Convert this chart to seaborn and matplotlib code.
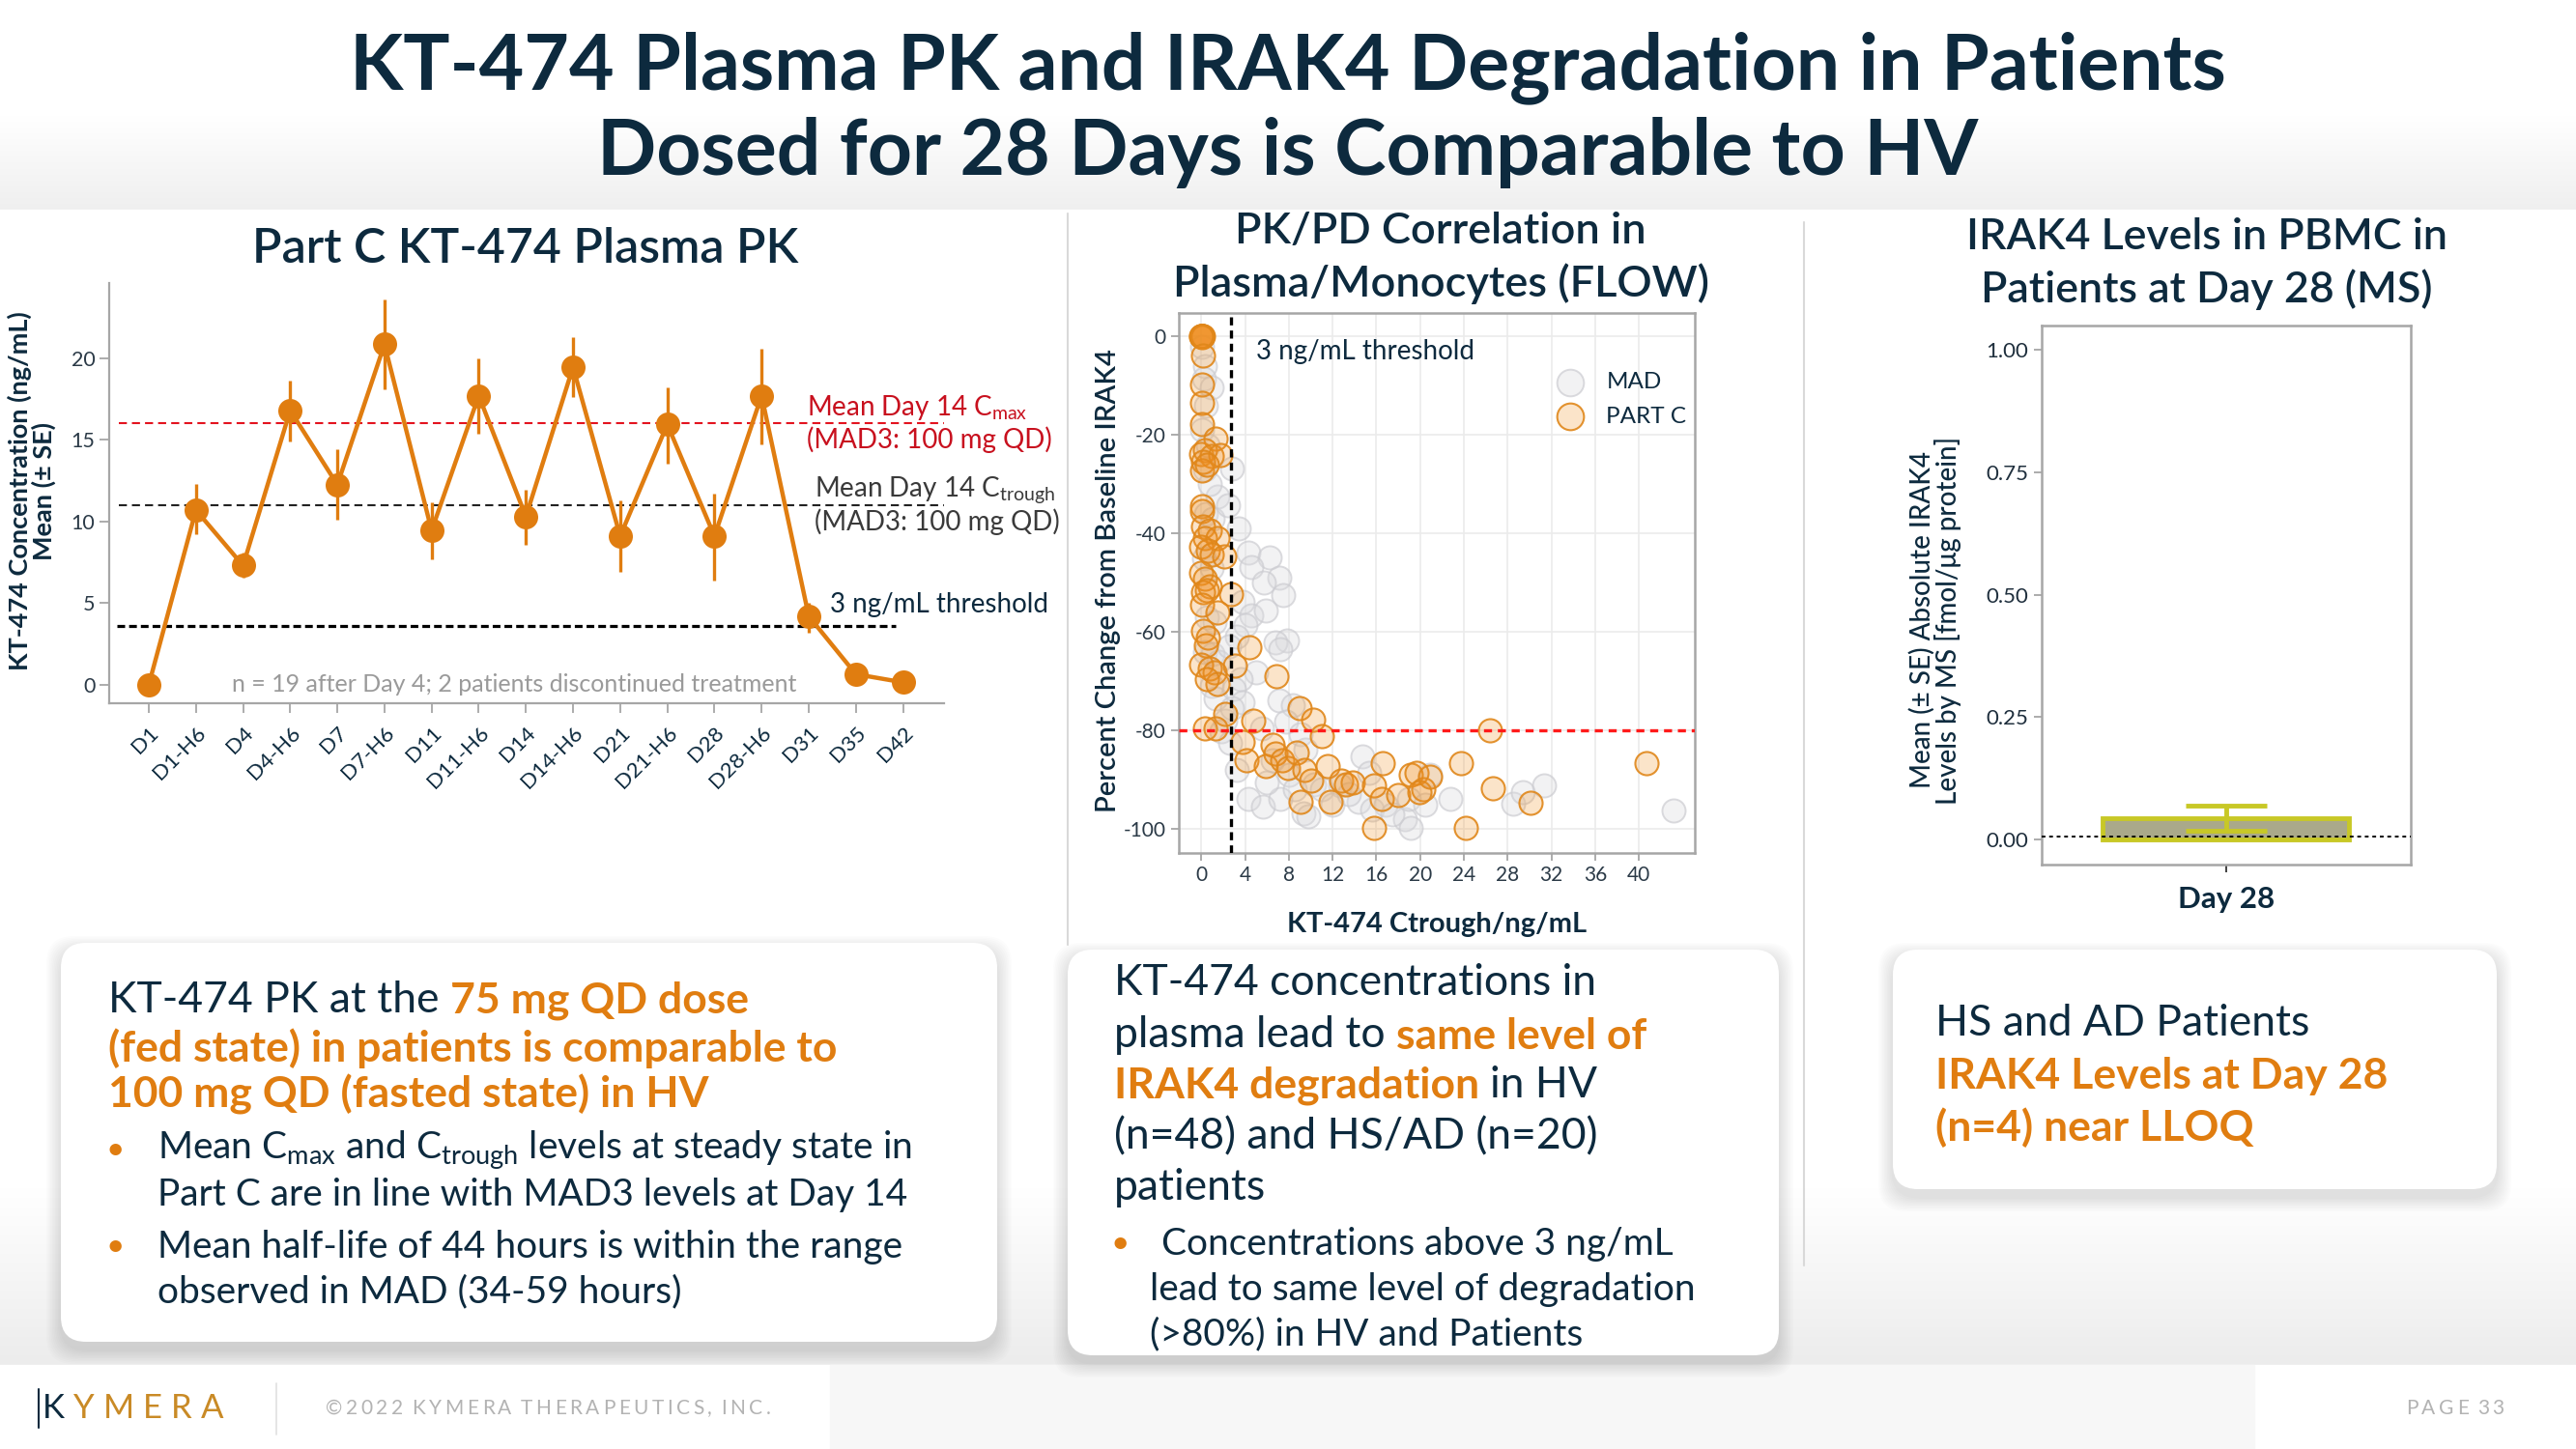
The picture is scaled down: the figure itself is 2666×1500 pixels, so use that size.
import numpy as np
import pandas as pd
import matplotlib
matplotlib.use("Agg")
import matplotlib.pyplot as plt
import seaborn as sns
from matplotlib.patches import FancyBboxPatch, Rectangle
from matplotlib.colors import to_rgb

# ---------------- data ----------------
pk_timepoints = ["D1", "D1-H6", "D4", "D4-H6", "D7", "D7-H6", "D11", "D11-H6", "D14",
                 "D14-H6", "D21", "D21-H6", "D28", "D28-H6", "D31", "D35", "D42"]
pk_mean = [0.0, 10.7, 7.3, 16.8, 12.25, 20.85, 9.45, 17.7, 10.3,
           19.45, 9.1, 15.95, 9.1, 17.7, 4.2, 0.65, 0.15]
pk_upper = [0.0, 12.3, 8.1, 18.6, 14.45, 23.6, 11.2, 20.0, 11.95,
            21.3, 11.3, 18.2, 11.7, 20.6, 5.05, 0.8, 0.2]
pk_lower = [0.0, 9.2, 6.55, 14.9, 10.1, 18.1, 7.7, 15.35, 8.6,
            17.6, 6.9, 13.55, 6.4, 14.75, 3.2, 0.5, 0.1]
cmax_ref = 16.0
ctrough_ref = 11.0
pk_threshold = 3.6

mad_ctrough = [0.1, 0.3, 0.2, 0.9, 0.4, 0.1, 0.6, 0.3, 1.5, 0.8, 0.4, 1.0, 0.2, 0.9, 0.5, 1.2,
               0.3, 1.0, 1.6, 0.9, 1.3, 1.8, 2.2, 2.6, 2.8, 2.4, 3.4, 4.3, 6.2, 4.6, 7.1, 5.7,
               3.8, 4.6, 7.5, 5.9, 4.0, 3.2, 2.5, 7.8, 6.8, 7.2, 5.0, 3.6, 3.0, 3.8, 7.1, 8.4,
               2.8, 7.7, 9.1, 5.5, 3.2, 4.3, 5.6, 7.2, 9.3, 10.3, 12.7, 14.4, 14.7, 15.3, 15.6,
               18.6, 19.1, 20.9, 22.8, 28.5, 29.4, 31.3, 43.2, 6.5, 8.0, 9.5, 11.0, 12.0, 13.5,
               16.8, 17.5, 19.0, 20.5, 9.8, 6.0, 8.5]
mad_pct = [-2, -6, -8.5, -10.4, -14, -19, -22, -27, -32.4, -30, -36, -37, -45, -47, -57, -58,
           -64, -64.5, -66, -70.9, -73.5, -80.1, -78, -82.5, -26.8, -34.3, -38.9, -43.8, -44.8,
           -46.8, -49, -50, -53.9, -56.6, -52.5, -55.6, -58.5, -61, -63, -61.8, -62.1, -63.5,
           -68.3, -69.5, -71.5, -74.2, -73.9, -74.9, -75.5, -78.2, -80.8, -79.5, -88.0, -93.9,
           -95.5, -93.9, -96.8, -90.9, -91.2, -94.5, -85.3, -88.6, -96.1, -98.1, -99.7, -89.0,
           -93.9, -94.8, -92.5, -91.2, -96.3, -86, -89, -84, -92, -95, -93, -95, -97, -94, -95,
           -97.5, -90.5, -92]

partc_ctrough = [0.0, 0.05, 0.1, 0.05, 0.1, 0.15, 0.1, 0.05, 0.0, 0.16, 0.04, 0.04, 0.04, 1.3,
                 0.0, 0.35, 0.95, 1.7, 0.16, 0.04, 0.5, 0.04, 0.1, 0.16, 0.75, 0.35, 1.5, 0.0,
                 0.55, 0.95, 2.1, 0.0, 0.35, 0.75, 0.16, 2.7, 0.5, 0.04, 1.5, 0.16, 0.6, 0.45,
                 4.4, 0.0, 0.75, 1.2, 3.1, 6.9, 1.5, 0.5, 9.0, 2.2, 10.2, 4.7, 0.35, 1.34, 11.0,
                 26.4, 3.8, 6.5, 4.1, 5.9, 6.78, 7.37, 7.95, 8.7, 9.4, 10.0, 11.5, 12.8, 13.25,
                 13.8, 9.1, 11.8, 15.8, 16.5, 18.0, 16.6, 19.1, 19.7, 20.3, 19.9, 20.9, 23.7,
                 26.6, 30.1, 40.7, 15.8, 24.2]
partc_pct = [0, 0, 0, 0.1, -0.1, 0, 0.1, 0, 0, -3.9, -9.8, -13.4, -17.7, -20.8, -23.9, -23.0,
             -24.3, -24.1, -25.5, -27.1, -26, -34.4, -35.5, -38.5, -39.3, -41.0, -41.0, -42.6,
             -43.4, -44.2, -44.6, -47.9, -49.1, -50.7, -52.0, -52.4, -51.5, -54.4, -56.0,
             -59.7, -61.1, -62.8, -63.1, -66.6, -67.4, -68.3, -66.8, -68.9, -70.5, -69.5,
             -75.5, -76.6, -77.8, -78.1, -79.6, -79.6, -81.1, -79.9, -82.4, -83.0, -86.0,
             -87.3, -84.7, -86.0, -87.6, -84.4, -88.0, -90.2, -87.3, -90.2, -90.9, -90.6,
             -94.5, -94.5, -91.2, -93.9, -93.2, -86.7, -89.0, -88.6, -91.9, -92.5, -89.3,
             -86.7, -91.8, -94.6, -86.7, -99.7, -99.7]
ctrough_threshold = 2.7
degradation_ref = -80

irak_days = ["Day 28"]
irak_mean = [0.043]
irak_upper = [0.069]
irak_lower = [0.019]
lloq_level = 0.006

# ---------------- style ----------------
sns.set_theme(style="white")
plt.rcParams['font.family'] = ['Lato', 'DejaVu Sans']
plt.rcParams['mathtext.fontset'] = 'custom'
plt.rcParams['mathtext.rm'] = 'Lato'
plt.rcParams['mathtext.it'] = 'Lato:italic'
plt.rcParams['mathtext.bf'] = 'Lato:bold'
plt.rcParams['mathtext.default'] = 'regular'
plt.rcParams['axes.unicode_minus'] = False

NAVY = '#0d2a3e'
ORANGE = '#e07d10'
GRAYSP = '#a6a6a6'

fig = plt.figure(figsize=(26.66, 15), dpi=100, facecolor='white')

# ---------------- background / decorations ----------------
bg = fig.add_axes([0, 0, 1, 1], zorder=-10)
bg.set_xlim(0, 2666)
bg.set_ylim(1500, 0)
bg.axis('off')

def vgrad(ax, x0, x1, y0, y1, c0, c1, z=0):
    g = np.linspace(0, 1, 256)[:, None, None]
    a = np.array(to_rgb(c0))[None, None, :]
    b = np.array(to_rgb(c1))[None, None, :]
    img = a * (1 - g) + b * g
    ax.imshow(img, extent=[x0, x1, y1, y0], aspect='auto', zorder=z, interpolation='bicubic')

vgrad(bg, 0, 2666, 120, 217, '#ffffff', '#efefef')
vgrad(bg, 0, 2666, 1230, 1413, '#ffffff', '#ececec')
bg.add_patch(Rectangle((0, 1413), 2666, 87, color='white', zorder=1))
bg.add_patch(Rectangle((859, 1413), 1474, 87, color='#f7f7f7', zorder=1))
bg.set_xlim(0, 2666)
bg.set_ylim(1500, 0)

# separators
bg.plot([1105, 1105], [221, 978], color='#d9d9d9', lw=1.5, zorder=2)
bg.plot([1867, 1867], [230, 1310], color='#d9d9d9', lw=1.5, zorder=2)
bg.plot([286, 286], [1432, 1485], color='#e0e0e0', lw=1.2, zorder=2)

def card(x0, y0, x1, y1):
    w, h = x1 - x0, y1 - y0
    for i in range(10, 0, -1):
        bg.add_patch(FancyBboxPatch((x0 - i * 1.5, y0 - i * 1.5 + 8), w + i * 3, h + i * 3,
                                    boxstyle="round,pad=0,rounding_size=28",
                                    facecolor='black', edgecolor='none', alpha=0.012, zorder=3))
    bg.add_patch(FancyBboxPatch((x0, y0), w, h, boxstyle="round,pad=0,rounding_size=26",
                                facecolor='white', edgecolor='none', zorder=4))

card(63, 976, 1032, 1389)
card(1105, 983, 1841, 1403)
card(1959, 983, 2584, 1231)

def rich_line(x, y, parts, size):
    t = None
    for text, color, weight in parts:
        if t is None:
            t = bg.text(x, y, text, color=color, fontsize=size, fontweight=weight,
                        va='center', ha='left', zorder=6)
        else:
            t = bg.annotate(text, xy=(1, 0), xycoords=t, xytext=(size * 0.25, 0),
                            textcoords='offset points', va='bottom', ha='left',
                            color=color, fontsize=size, fontweight=weight, zorder=6)
    return t

def spaced_text(x, y, s, size, color, track, colors=None, weight='normal'):
    t = None
    extra = 0.0
    for i, ch in enumerate(s):
        col = colors[i] if colors else color
        if ch == ' ':
            extra += size * 0.26
            continue
        if t is None:
            t = bg.text(x, y, ch, color=col, fontsize=size, fontweight=weight,
                        va='center', ha='left', zorder=6)
        else:
            t = bg.annotate(ch, xy=(1, 0), xycoords=t, xytext=(track + extra, 0),
                            textcoords='offset points', va='bottom', ha='left',
                            color=col, fontsize=size, fontweight=weight, zorder=6)
        extra = 0.0
    return t

# title
bg.text(1333, 70, "KT-474 Plasma PK and IRAK4 Degradation in Patients", ha='center', va='center',
        fontsize=58, fontweight='bold', color=NAVY, zorder=6)
bg.text(1333, 158, "Dosed for 28 Days is Comparable to HV", ha='center', va='center',
        fontsize=58, fontweight='bold', color=NAVY, zorder=6)

# panel titles
bg.text(544, 257, "Part C KT-474 Plasma PK", ha='center', va='center', fontsize=36,
        fontweight='semibold', color=NAVY, zorder=6)
bg.text(1491, 240, "PK/PD Correlation in", ha='center', va='center', fontsize=32.5,
        fontweight='semibold', color=NAVY, zorder=6)
bg.text(1491, 294, "Plasma/Monocytes (FLOW)", ha='center', va='center', fontsize=32.5,
        fontweight='semibold', color=NAVY, zorder=6)
bg.text(2284, 245, "IRAK4 Levels in PBMC in", ha='center', va='center', fontsize=32.2,
        fontweight='semibold', color=NAVY, zorder=6)
bg.text(2284, 300, "Patients at Day 28 (MS)", ha='center', va='center', fontsize=32.2,
        fontweight='semibold', color=NAVY, zorder=6)

# card 1
rich_line(112, 1036, [("KT-474 PK at the", NAVY, 'normal'), ("75 mg QD dose", ORANGE, 'bold')], 32)
rich_line(112, 1085, [("(fed state) in patients is comparable to", ORANGE, 'bold')], 32)
rich_line(112, 1133, [("100 mg QD (fasted state) in HV", ORANGE, 'bold')], 32)
for yb in (1191, 1291):
    bg.text(119, yb, "•", color=ORANGE, fontsize=24, va='center', ha='center', zorder=6)
bg.text(163, 1191, "Mean C$_{max}$ and C$_{trough}$ levels at steady state in", color=NAVY,
        fontsize=28, va='center', ha='left', zorder=6)
bg.text(163, 1237, "Part C are in line with MAD3 levels at Day 14", color=NAVY,
        fontsize=28, va='center', ha='left', zorder=6)
bg.text(163, 1291, "Mean half-life of 44 hours is within the range", color=NAVY,
        fontsize=28, va='center', ha='left', zorder=6)
bg.text(163, 1337, "observed in MAD (34-59 hours)", color=NAVY,
        fontsize=28, va='center', ha='left', zorder=6)

# card 2
rich_line(1153, 1017, [("KT-474 concentrations in", NAVY, 'normal')], 32)
rich_line(1153, 1072, [("plasma lead to", NAVY, 'normal'), ("same level of", ORANGE, 'bold')], 32)
rich_line(1153, 1124, [("IRAK4 degradation", ORANGE, 'bold'), ("in HV", NAVY, 'normal')], 32)
rich_line(1153, 1177, [("(n=48) and HS/AD (n=20)", NAVY, 'normal')], 32)
rich_line(1153, 1230, [("patients", NAVY, 'normal')], 32)
bg.text(1159, 1288, "•", color=ORANGE, fontsize=24, va='center', ha='center', zorder=6)
bg.text(1202, 1288, "Concentrations above 3 ng/mL", color=NAVY, fontsize=28, va='center', zorder=6)
bg.text(1190, 1335, "lead to same level of degradation", color=NAVY, fontsize=28, va='center', zorder=6)
bg.text(1190, 1381, "(>80%) in HV and Patients", color=NAVY, fontsize=28, va='center', zorder=6)

# card 3
rich_line(2003, 1060, [("HS and AD Patients", NAVY, 'normal')], 32)
rich_line(2003, 1114, [("IRAK4 Levels at Day 28", ORANGE, 'bold')], 32)
rich_line(2003, 1167, [("(n=4) near LLOQ", ORANGE, 'bold')], 32)

# footer
bg.plot([40, 40], [1438, 1478], color=NAVY, lw=1.5, zorder=6)
spaced_text(44, 1458, "KYMERA", 25, NAVY, 6.5,
            colors=[NAVY, '#c98a26', '#c98a26', '#c98a26', '#c98a26', '#c98a26'])
spaced_text(337, 1458, "©2022 KYMERA THERAPEUTICS, INC.", 15, '#b3b3b3', 2.6)
spaced_text(2490, 1458, "PAGE 33", 15, '#b3b3b3', 2.6)

# ---------------- panel 1: PK ----------------
ax1 = fig.add_axes([113 / 2666, 1 - 728 / 1500, 864 / 2666, 435 / 1500])
ax1.set_facecolor('none')
df_pk = pd.DataFrame({'t': pk_timepoints, 'x': np.arange(len(pk_timepoints)),
                      'mean': pk_mean, 'up': pk_upper, 'lo': pk_lower})
ax1.errorbar(df_pk['x'], df_pk['mean'],
             yerr=[df_pk['mean'] - df_pk['lo'], df_pk['up'] - df_pk['mean']],
             fmt='none', ecolor=ORANGE, elinewidth=2.4, capsize=0, zorder=2)
sns.lineplot(data=df_pk, x='x', y='mean', color=ORANGE, lw=3.2, marker='o', markersize=18,
             markeredgewidth=0, ax=ax1, zorder=3)
ax1.axhline(cmax_ref, xmin=0.012, xmax=1.0, color='#e3141f', lw=1.5, ls=(0, (4, 2.5)), zorder=1)
ax1.axhline(ctrough_ref, xmin=0.012, xmax=1.0, color='#222222', lw=1.5, ls=(0, (4, 2.5)), zorder=1)
ax1.axhline(pk_threshold, xmin=0.009, xmax=0.942, color='black', lw=2.3, ls=(0, (2.5, 1.3)), zorder=1)
ax1.set_xlim(-0.84, 16.87)
ax1.set_ylim(-1.13, 24.6)
ax1.set_xticks(df_pk['x'])
ax1.set_xticklabels(pk_timepoints, rotation=45, ha='right', rotation_mode='anchor')
ax1.set_yticks([0, 5, 10, 15, 20])
ax1.tick_params(axis='both', colors=GRAYSP, labelcolor='#2b3a47', labelsize=15.5,
                length=7, width=1.3, left=True, bottom=True)
ax1.tick_params(axis='x', pad=8, labelcolor=NAVY, labelsize=16)
for s in ['top', 'right']:
    ax1.spines[s].set_visible(False)
for s in ['left', 'bottom']:
    ax1.spines[s].set_color(GRAYSP)
    ax1.spines[s].set_linewidth(1.6)
ax1.set_xlabel('')
ax1.set_ylabel('')
ax1.text(13.96, 16.95, "Mean Day 14 C$_{max}$", color='#c8101e', fontsize=20, va='center', ha='left', clip_on=False)
ax1.text(13.96, 15.0, "(MAD3: 100 mg QD)", color='#c8101e', fontsize=20, va='center', ha='left', clip_on=False)
ax1.text(14.13, 11.95, "Mean Day 14 C$_{trough}$", color='#3a3a3a', fontsize=20, va='center', ha='left', clip_on=False)
ax1.text(14.13, 9.95, "(MAD3: 100 mg QD)", color='#3a3a3a', fontsize=20, va='center', ha='left', clip_on=False)
ax1.text(14.45, 4.9, "3 ng/mL threshold", color=NAVY, fontsize=20, va='center', ha='left', clip_on=False)
ax1.text(7.76, 0.0, "n = 19 after Day 4; 2 patients discontinued treatment", color='#9a9a9a',
         fontsize=18, va='center', ha='center')
fig.text(33 / 2666, 1 - 508 / 1500, "KT-474 Concentration (ng/mL)\nMean (± SE)", rotation=90,
         ha='center', va='center', fontsize=19.5, fontweight='bold', color=NAVY, linespacing=1.0)

# ---------------- panel 2: PK/PD scatter ----------------
ax2 = fig.add_axes([1220 / 2666, 1 - 883 / 1500, 534 / 2666, 559 / 1500])
ax2.set_facecolor('white')
df_mad = pd.DataFrame({'ctrough': mad_ctrough, 'pct': mad_pct})
df_c = pd.DataFrame({'ctrough': partc_ctrough, 'pct': partc_pct})
ax2.grid(True, color='#ebebeb', lw=1.2, zorder=0)
ax2.set_axisbelow(True)
sns.scatterplot(data=df_mad, x='ctrough', y='pct', s=300, color='#e8e8e8', ax=ax2,
                label='MAD', zorder=2, legend=False)
c1 = ax2.collections[-1]
c1.set_alpha(None)
c1.set_facecolor((0.86, 0.86, 0.87, 0.35))
c1.set_edgecolor((0.80, 0.80, 0.82, 0.7))
c1.set_linewidth(1.4)
sns.scatterplot(data=df_c, x='ctrough', y='pct', s=300, color='#f7c999', ax=ax2,
                label='PART C', zorder=3, legend=False)
c2 = ax2.collections[-1]
c2.set_alpha(None)
c2.set_facecolor((0.94, 0.56, 0.13, 0.24))
c2.set_edgecolor((0.88, 0.53, 0.10, 0.9))
c2.set_linewidth(1.5)
ax2.axvline(ctrough_threshold, color='black', lw=2.4, ls=(0, (2.5, 1.6)), zorder=4)
ax2.axhline(degradation_ref, color='#ff1a1a', lw=2.4, ls=(0, (2.5, 1.8)), zorder=4)
ax2.set_xlim(-2.06, 45.1)
ax2.set_ylim(-104.9, 4.8)
ax2.set_xticks(np.arange(0, 41, 4))
ax2.set_yticks([0, -20, -40, -60, -80, -100])
ax2.tick_params(axis='both', colors=GRAYSP, labelcolor='#2b3a47', labelsize=15,
                length=6, width=1.3, left=True, bottom=True)
for s in ax2.spines.values():
    s.set_visible(True)
    s.set_color(GRAYSP)
    s.set_linewidth(1.8)
ax2.set_xlabel("KT-474 Ctrough/ng/mL", fontsize=21, fontweight='bold', color=NAVY, labelpad=20)
ax2.set_ylabel('')
fig.text(1147 / 2666, 1 - 601 / 1500, "Percent Change from Baseline IRAK4", rotation=90,
         ha='center', va='center', fontsize=21, fontweight='semibold', color=NAVY)
ax2.text(5.0, -3.0, "3 ng/mL threshold", color=NAVY, fontsize=20, va='center', ha='left', zorder=5)
leg = ax2.legend(loc='upper right', bbox_to_anchor=(1.025, 0.93), frameon=False, fontsize=17.5,
                 handletextpad=0.55, labelspacing=0.6, markerscale=1.15)
for t in leg.get_texts():
    t.set_color(NAVY)

# ---------------- panel 3: IRAK4 bar ----------------
ax3 = fig.add_axes([2112.6 / 2666, 1 - 895 / 1500, 382.4 / 2666, 558 / 1500])
df3 = pd.DataFrame({'day': irak_days, 'level': irak_mean, 'up': irak_upper, 'lo': irak_lower})
sns.barplot(data=df3, x='day', y='level', color='#aaa98a', saturation=1, edgecolor='#c8c826',
            linewidth=3.5, width=1.0, errorbar=None, ax=ax3, zorder=2)
ax3.errorbar([0], df3['level'], yerr=[df3['level'] - df3['lo'], df3['up'] - df3['level']],
             fmt='none', ecolor='#c8c826', elinewidth=3.5, capsize=30, capthick=3.5, zorder=3)
ax3.axhline(lloq_level, color='black', lw=1.4, ls=(0, (2, 2)), zorder=4)
ax3.set_xlim(-0.75, 0.75)
ax3.set_ylim(-0.051, 1.05)
ax3.set_yticks([0, 0.25, 0.5, 0.75, 1.0])
ax3.set_yticklabels(['0.00', '0.25', '0.50', '0.75', '1.00'])
ax3.tick_params(axis='y', colors=GRAYSP, labelcolor='#1f2f3d', labelsize=16, length=6, width=1.3, left=True)
ax3.tick_params(axis='x', colors='#333333', labelcolor=NAVY, labelsize=22.5, length=6, width=1.3,
                bottom=True, pad=10)
for lab in ax3.get_xticklabels():
    lab.set_fontweight('bold')
for s in ax3.spines.values():
    s.set_visible(True)
    s.set_color(GRAYSP)
    s.set_linewidth(1.8)
ax3.set_xlabel('')
ax3.set_ylabel('')
fig.text(2003 / 2666, 1 - 642 / 1500, "Mean (± SE) Absolute IRAK4\nLevels by MS [fmol/μg protein]",
         rotation=90, ha='center', va='center', fontsize=20, fontweight='medium', color=NAVY,
         linespacing=1.0)

fig.savefig("out.png", dpi=100, facecolor='white')
